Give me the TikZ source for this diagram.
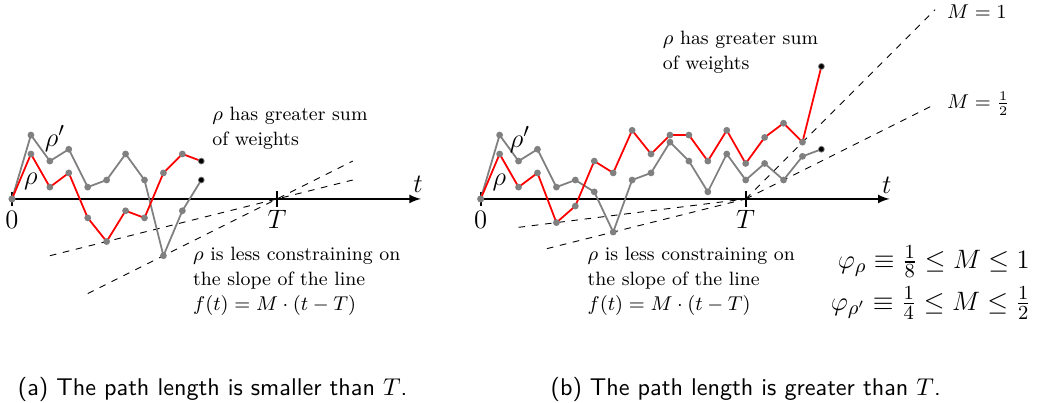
\documentclass[tikz,border=0pt]{standalone}
\usepackage{amsmath}
\begin{document}
\begin{tikzpicture}[x=0.3cm, y=0.3cm, >=latex,
  rhopath/.style={red, thick, mark=*, mark size=1.1pt, mark options={solid, gray}},
  rhoprime/.style={gray, thick, mark=*, mark size=1.1pt, mark options={solid, gray}},
  axislabel/.style={font=\fontsize{13}{15}\selectfont, inner sep=0pt},
  anno/.style={font=\fontsize{8.7}{11.3}\selectfont, align=left, inner sep=0pt},
  bound/.style={font=\fontsize{12.6}{15}\selectfont, inner sep=0pt, anchor=east},
  caption/.style={font=\fontsize{10.9}{13}\sffamily, inner sep=0pt, anchor=base}]
  \useasboundingbox (-0.634,-10.78) rectangle (54.52,10.51);

  % (a) path shorter than T
  \begin{scope}[shift={(0,0)}]
      \draw[thick, ->] (0,0) -- (21.6,0);
      \node[axislabel] (ta) at (21.45,0.79) {$t$};
      \draw[thick] (0,-0.37) -- (0,0.37);
      \draw[thick] (14,-0.4) -- (14,0.4);
      \node[axislabel] (za) at (0,-1.1) {$0$};
      \node[axislabel] (Ta) at (14,-1.1) {$T$};
      \draw[dashed] (2,-3) -- (18,1);
      \draw[dashed] (4,-5) -- (18,2);
      \draw[rhoprime] plot coordinates {(0,0) (1,3.375) (2,2) (3,2.625) (4,0.625) (5,1) (6,2.375) (7,1) (8,-3) (9,-0.625) (10,1)};
      \draw[rhopath] plot coordinates {(0,0) (1,2.375) (2,0.625) (3,1.375) (4,-1) (5,-2.25) (6,-0.625) (7,-1) (8,1.375) (9,2.375) (10,2)};
      \fill (10,2) circle (1.1pt);
      \fill (10,1) circle (1.1pt);
      \node[axislabel] (rpa) at (2.27,3.2) {$\rho'$};
      \node[axislabel] (ra) at (1.0,0.92) {$\rho$};
      \node[anno, anchor=west] (suma) at (10.56,3.72) {$\rho$ has greater sum\\of weights};
      \node[anno, anchor=west] (slopea) at (9.55,-4.33) {$\rho$ is less constraining on\\the slope of the line\\$f(t) = M\cdot(t-T)$};
      \node[caption] (capa) at (10.6,-10.4) {(a) The path length is smaller than $T$.};
  \end{scope}

  % (b) path longer than T
  \begin{scope}[shift={(24.76,0)}]
      \draw[thick, ->] (0,0) -- (21.6,0);
      \node[axislabel] (tb) at (21.45,0.74) {$t$};
      \draw[thick] (0,-0.37) -- (0,0.37);
      \draw[thick] (14,-0.4) -- (14,0.4);
      \node[axislabel] (zb) at (0,-1.1) {$0$};
      \node[axislabel] (Tb) at (14,-1.1) {$T$};
      \draw[dashed] (2,-1.5) -- (14,0);
      \draw[dashed] (3.5,-2.625) -- (14,0);
      \draw[dashed] (14,0) -- (24,10);
      \draw[dashed] (14,0) -- (24,5);
      \node[anno, anchor=west] (mone) at (24.62,9.88) {$M=1$};
      \node[anno, anchor=west] (mhalf) at (24.62,5.02) {$M=\frac12$};
      \draw[rhoprime] plot coordinates {(0,0) (1,3.375) (2,2) (3,2.625) (4,0.625) (5,1) (6,0.375) (7,-1.75) (8,1) (9,1.375) (10,3) (11,2) (12,0.375) (13,2.375) (14,1) (15,1.875) (16,1) (17,2.25) (18,2.625)};
      \draw[rhopath] plot coordinates {(0,0) (1,2.375) (2,0.625) (3,1.375) (4,-1.25) (5,-0.375) (6,2) (7,1.375) (8,3.625) (9,2.375) (10,3.375) (11,3.375) (12,2) (13,3.625) (14,1.875) (15,3.25) (16,4) (17,3) (18,7)};
      \fill (18,7) circle (1.1pt);
      \fill (18,2.625) circle (1.1pt);
      \node[axislabel] (rpb) at (2.08,3.15) {$\rho'$};
      \node[axislabel] (rb) at (0.98,0.86) {$\rho$};
      \node[anno, anchor=west] (sumb) at (9.6,7.74) {$\rho$ has greater sum\\of weights};
      \node[anno, anchor=west] (slopeb) at (5.63,-4.35) {$\rho$ is less constraining on\\the slope of the line\\$f(t) = M\cdot(t-T)$};
      \node[bound] (phir) at (29.02,-3.31) {$\varphi_\rho \equiv \frac18 \le M \le 1$};
      \node[bound] (phirp) at (29.1,-5.51) {$\varphi_{\rho'} \equiv \frac14 \le M \le \frac12$};
      \node[caption] (capb) at (14,-10.4) {(b) The path length is greater than $T$.};
  \end{scope}
\end{tikzpicture}
\end{document}
